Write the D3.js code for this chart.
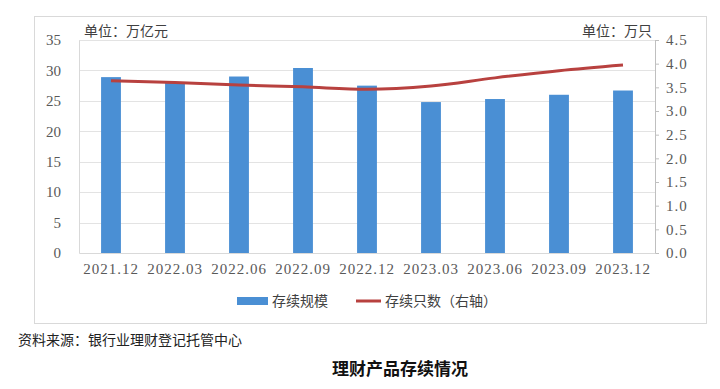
<!DOCTYPE html>
<html>
<head>
<meta charset="utf-8">
<script src="https://cdn.jsdelivr.net/npm/d3@7"></script>
<style>
  body { margin: 0; background: #fff; }
  text { font-family: "Liberation Serif", "Noto Sans CJK SC", serif; }
  .cjk { font-family: "Noto Sans CJK SC", sans-serif; }
</style>
</head>
<body>
<svg width="720" height="389"></svg>
<script>
var categories = ["2021.12", "2022.03", "2022.06", "2022.09", "2022.12", "2023.03", "2023.06", "2023.09", "2023.12"];
var scale = [28.9, 28.1, 29.0, 30.4, 27.5, 24.8, 25.3, 26.0, 26.7];
var counts = [3.64, 3.60, 3.55, 3.51, 3.46, 3.53, 3.70, 3.85, 3.97];
var leftTicks = [0, 5, 10, 15, 20, 25, 30, 35];
var rightTicks = [0, 0.5, 1, 1.5, 2, 2.5, 3, 3.5, 4, 4.5];

var svg = d3.select("svg"),
  margin = { top: 40, left: 79, right: 65, bottom: 136 },
  width = 720 - margin.left - margin.right,
  height = 389 - margin.top - margin.bottom;

// outer box
svg.append("rect")
  .attr("x", 34.5).attr("y", 16.5)
  .attr("width", 672).attr("height", 307)
  .attr("fill", "#fff").attr("stroke", "#d9d9d9");

var g = svg.append("g").attr("transform", "translate(" + margin.left + "," + margin.top + ")");

var x = d3.scaleBand().domain(categories).range([0, width])
  .paddingInner(0.69).paddingOuter(0.345);
var y = d3.scaleLinear().domain([0, 35]).range([height, 0]);
var y2 = d3.scaleLinear().domain([0, 4.5]).range([height, 0]);

// grid
g.selectAll(".grid")
  .data(leftTicks.slice(1))
  .enter().append("line")
  .attr("x1", 0).attr("x2", width)
  .attr("y1", function (d) { return Math.round(y(d)) + 0.5; })
  .attr("y2", function (d) { return Math.round(y(d)) + 0.5; })
  .attr("stroke", "#e3e3e3");

// left axis
var ay = g.append("g")
  .call(d3.axisLeft(y).tickValues(leftTicks).tickSize(0).tickPadding(18));
ay.select(".domain").attr("stroke", "#d9d9d9");
ay.selectAll("text").attr("font-size", 15).attr("fill", "#595959");

// right axis
var ay2 = g.append("g")
  .attr("transform", "translate(" + width + ",0)")
  .call(d3.axisRight(y2).tickValues(rightTicks).tickSize(4).tickPadding(7)
    .tickFormat(d3.format(".1f")));
ay2.select(".domain").attr("stroke", "#bfbfbf");
ay2.selectAll(".tick line").attr("stroke", "#bfbfbf");
ay2.selectAll("text").attr("font-size", 15).attr("fill", "#595959")
  .attr("letter-spacing", 1);

// bottom axis
var ax = g.append("g")
  .attr("transform", "translate(0," + height + ")")
  .call(d3.axisBottom(x).tickSize(0).tickPadding(10));
ax.select(".domain").attr("stroke", "#d9d9d9");
ax.selectAll("text").attr("font-size", 15).attr("fill", "#595959")
  .attr("letter-spacing", 1);

// bars
g.selectAll(".bar")
  .data(scale)
  .enter().append("rect")
  .attr("x", function (d, i) { return x(categories[i]); })
  .attr("y", function (d) { return y(d); })
  .attr("width", x.bandwidth())
  .attr("height", function (d) { return height - y(d); })
  .attr("fill", "#4a8fd4");

// line
var line = d3.line()
  .x(function (d, i) { return x(categories[i]) + x.bandwidth() / 2; })
  .y(function (d) { return y2(d); })
  .curve(d3.curveMonotoneX);

g.append("path")
  .datum(counts)
  .attr("d", line)
  .attr("fill", "none")
  .attr("stroke", "#b8413f")
  .attr("stroke-width", 3);

// unit labels
svg.append("text").attr("class", "cjk")
  .attr("x", 84).attr("y", 36)
  .attr("font-size", 14).attr("fill", "#404040")
  .text("单位：万亿元");
svg.append("text").attr("class", "cjk")
  .attr("x", 652).attr("y", 36).attr("text-anchor", "end")
  .attr("font-size", 14).attr("fill", "#404040")
  .text("单位：万只");

// legend
var lg = svg.append("g").attr("transform", "translate(0,301)");
lg.append("rect").attr("x", 237).attr("y", -4).attr("width", 31).attr("height", 8).attr("fill", "#4a8fd4");
lg.append("text").attr("class", "cjk").attr("x", 272).attr("y", 5)
  .attr("font-size", 14).attr("fill", "#404040").text("存续规模");
lg.append("line").attr("x1", 356).attr("x2", 381).attr("y1", 0).attr("y2", 0)
  .attr("stroke", "#b8413f").attr("stroke-width", 3);
lg.append("text").attr("class", "cjk").attr("x", 385).attr("y", 5)
  .attr("font-size", 14).attr("fill", "#404040").text("存续只数（右轴）");

// source + title
svg.append("text").attr("class", "cjk")
  .attr("x", 18).attr("y", 345)
  .attr("font-size", 14).attr("fill", "#222")
  .text("资料来源：银行业理财登记托管中心");
svg.append("text").attr("class", "cjk")
  .attr("x", 400).attr("y", 375).attr("text-anchor", "middle")
  .attr("font-size", 17).attr("font-weight", "bold").attr("fill", "#111")
  .text("理财产品存续情况");
</script>
</body>
</html>
